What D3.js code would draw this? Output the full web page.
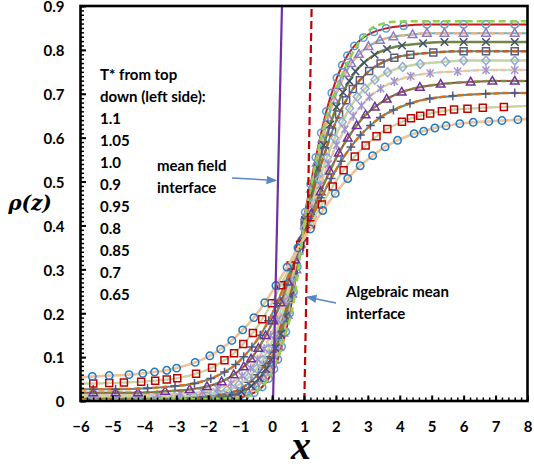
<!DOCTYPE html>
<html>
<head>
<meta charset="utf-8">
<script src="https://cdn.jsdelivr.net/npm/d3@7"></script>
<style>
  body { margin: 0; background: #fff; }
  .lbl { font-family: Lato, "Open Sans", sans-serif; font-weight: bold; font-size: 15px; fill: #000; }
</style>
</head>
<body>
<svg id="chart" width="534" height="467"></svg>
<script>
// density profiles rho(z), one pair of arrays per temperature (top curve on the right first)
var s1z = [-6, -5.6, -4.9, -4.2, -3.6, -3.05, -2.55, -2.1, -1.26, -0.85, -0.56, -0.31, -0.11, 0.06, 0.18, 0.30, 0.43, 0.55, 0.67, 0.79, 0.92, 1.04, 1.21, 1.37, 1.54, 1.70, 1.87, 2.03, 2.20, 2.36, 2.58, 2.86, 3.19, 3.57, 4.12, 4.85, 5.4, 6.0, 6.7, 7.6, 8];
var s1rho = [0.002, 0.002, 0.002, 0.002, 0.002, 0.002, 0.002, 0.002, 0.005, 0.011, 0.019, 0.032, 0.051, 0.073, 0.095, 0.124, 0.158, 0.200, 0.249, 0.306, 0.366, 0.430, 0.494, 0.555, 0.611, 0.660, 0.702, 0.736, 0.765, 0.787, 0.809, 0.828, 0.841, 0.849, 0.855, 0.858, 0.858, 0.858, 0.858, 0.858, 0.858];

var s2z = [-6, -5.6, -4.9, -4.2, -3.6, -3.05, -2.55, -2.1, -1.54, -1.08, -0.75, -0.48, -0.25, -0.06, 0.07, 0.21, 0.35, 0.49, 0.63, 0.76, 0.90, 1.04, 1.22, 1.40, 1.58, 1.76, 1.94, 2.12, 2.30, 2.48, 2.72, 3.02, 3.38, 3.80, 4.40, 4.85, 5.4, 6.0, 6.7, 7.6, 8];
var s2rho = [0.003, 0.003, 0.003, 0.003, 0.003, 0.003, 0.003, 0.003, 0.006, 0.011, 0.019, 0.033, 0.051, 0.072, 0.094, 0.122, 0.155, 0.196, 0.244, 0.299, 0.358, 0.421, 0.483, 0.542, 0.597, 0.645, 0.686, 0.719, 0.747, 0.769, 0.790, 0.808, 0.822, 0.830, 0.835, 0.838, 0.838, 0.838, 0.838, 0.838, 0.838];

var s3z = [-6, -5.6, -4.9, -4.2, -3.6, -3.05, -2.55, -1.83, -1.32, -0.96, -0.65, -0.40, -0.19, -0.04, 0.11, 0.27, 0.42, 0.57, 0.72, 0.88, 1.03, 1.23, 1.43, 1.62, 1.82, 2.02, 2.22, 2.42, 2.61, 2.88, 3.21, 3.60, 4.07, 4.73, 5.4, 6.0, 6.7, 7.6, 8];
var s3rho = [0.005, 0.005, 0.005, 0.005, 0.005, 0.005, 0.005, 0.008, 0.013, 0.021, 0.034, 0.052, 0.073, 0.094, 0.120, 0.153, 0.193, 0.240, 0.293, 0.351, 0.412, 0.472, 0.530, 0.583, 0.630, 0.670, 0.703, 0.729, 0.751, 0.771, 0.789, 0.802, 0.810, 0.815, 0.818, 0.818, 0.818, 0.818, 0.818];

var s4z = [-6, -5.6, -4.9, -4.2, -3.6, -3.05, -2.55, -2.12, -1.56, -1.16, -0.83, -0.55, -0.32, -0.16, 0.01, 0.18, 0.35, 0.52, 0.68, 0.85, 1.02, 1.24, 1.45, 1.67, 1.88, 2.10, 2.32, 2.53, 2.75, 3.04, 3.40, 3.83, 4.33, 5.05, 6.0, 6.7, 7.6, 8];
var s4rho = [0.007, 0.007, 0.007, 0.007, 0.007, 0.007, 0.007, 0.010, 0.015, 0.022, 0.035, 0.052, 0.073, 0.093, 0.119, 0.151, 0.190, 0.235, 0.287, 0.343, 0.402, 0.461, 0.517, 0.569, 0.614, 0.653, 0.685, 0.711, 0.731, 0.752, 0.769, 0.782, 0.789, 0.794, 0.797, 0.797, 0.797, 0.797];

var s5z = [-6, -5.6, -4.9, -4.2, -3.6, -3.05, -2.46, -1.84, -1.41, -1.04, -0.73, -0.48, -0.29, -0.11, 0.08, 0.27, 0.45, 0.64, 0.82, 1.01, 1.25, 1.48, 1.72, 1.96, 2.20, 2.43, 2.67, 2.91, 3.22, 3.62, 4.09, 4.64, 5.43, 6.0, 6.7, 7.6, 8];
var s5rho = [0.010, 0.010, 0.010, 0.010, 0.010, 0.010, 0.013, 0.018, 0.025, 0.037, 0.054, 0.074, 0.094, 0.119, 0.150, 0.187, 0.231, 0.282, 0.336, 0.393, 0.450, 0.505, 0.555, 0.599, 0.636, 0.667, 0.693, 0.712, 0.732, 0.749, 0.761, 0.768, 0.773, 0.776, 0.776, 0.776, 0.776];

var s6z = [-6, -5.6, -4.9, -4.2, -3.6, -2.87, -2.18, -1.70, -1.29, -0.94, -0.67, -0.46, -0.25, -0.05, 0.16, 0.37, 0.58, 0.78, 0.99, 1.25, 1.51, 1.76, 2.02, 2.28, 2.54, 2.80, 3.05, 3.40, 3.83, 4.34, 4.95, 5.81, 6.7, 7.6, 8];
var s6rho = [0.014, 0.014, 0.014, 0.014, 0.014, 0.017, 0.021, 0.028, 0.040, 0.057, 0.075, 0.095, 0.119, 0.149, 0.185, 0.228, 0.276, 0.329, 0.384, 0.439, 0.492, 0.540, 0.583, 0.619, 0.649, 0.673, 0.693, 0.712, 0.728, 0.740, 0.747, 0.751, 0.754, 0.754, 0.754];

var s7z = [-6, -5.6, -4.9, -4.2, -3.35, -2.58, -2.04, -1.58, -1.20, -0.89, -0.66, -0.43, -0.20, 0.04, 0.27, 0.50, 0.73, 0.96, 1.24, 1.52, 1.81, 2.09, 2.37, 2.65, 2.93, 3.22, 3.59, 4.06, 4.63, 5.28, 6.22, 6.9, 7.6, 8];
var s7rho = [0.019, 0.019, 0.019, 0.019, 0.022, 0.026, 0.033, 0.044, 0.060, 0.078, 0.096, 0.120, 0.149, 0.183, 0.224, 0.271, 0.321, 0.374, 0.427, 0.477, 0.524, 0.565, 0.599, 0.628, 0.652, 0.670, 0.688, 0.704, 0.715, 0.722, 0.727, 0.729, 0.729, 0.729];

var s8z = [-6, -5.6, -4.9, -3.90, -3.04, -2.43, -1.92, -1.49, -1.14, -0.89, -0.63, -0.37, -0.11, 0.15, 0.40, 0.66, 0.92, 1.23, 1.54, 1.85, 2.16, 2.47, 2.77, 3.08, 3.39, 3.80, 4.32, 4.94, 5.66, 6.69, 7.6, 8];
var s8rho = [0.027, 0.027, 0.027, 0.029, 0.034, 0.040, 0.051, 0.066, 0.083, 0.101, 0.123, 0.150, 0.183, 0.222, 0.266, 0.314, 0.365, 0.415, 0.463, 0.507, 0.546, 0.579, 0.606, 0.628, 0.646, 0.663, 0.678, 0.689, 0.695, 0.700, 0.702, 0.702];

var s9z = [-6, -5.6, -5.1, -4.64, -4.1, -3.66, -3.3, -2.97, -2.38, -1.88, -1.49, -1.19, -0.90, -0.60, -0.31, -0.01, 0.28, 0.58, 0.88, 1.22, 1.56, 1.90, 2.24, 2.59, 2.93, 3.27, 3.61, 4.07, 4.35, 4.64, 4.95, 5.32, 5.7, 6.12, 6.6, 7.26, 8];
var s9rho = [0.040, 0.040, 0.041, 0.042, 0.044, 0.046, 0.049, 0.052, 0.062, 0.076, 0.093, 0.109, 0.130, 0.155, 0.186, 0.223, 0.264, 0.309, 0.356, 0.403, 0.448, 0.489, 0.526, 0.557, 0.582, 0.603, 0.620, 0.636, 0.644, 0.650, 0.655, 0.660, 0.664, 0.666, 0.668, 0.670, 0.672];

var s10z = [-6, -5.63, -5.1, -4.48, -4.05, -3.68, -3.3, -2.99, -2.41, -1.95, -1.61, -1.26, -0.92, -0.57, -0.23, 0.12, 0.47, 0.81, 1.20, 1.59, 1.98, 2.37, 2.76, 3.15, 3.54, 3.93, 4.45, 4.75, 5.10, 5.45, 5.88, 6.3, 6.79, 7.2, 7.7, 8];
var s10rho = [0.054, 0.056, 0.058, 0.060, 0.063, 0.066, 0.070, 0.075, 0.088, 0.103, 0.118, 0.138, 0.162, 0.190, 0.224, 0.263, 0.305, 0.349, 0.392, 0.434, 0.473, 0.507, 0.536, 0.559, 0.579, 0.594, 0.609, 0.615, 0.622, 0.627, 0.632, 0.635, 0.637, 0.639, 0.641, 0.643];

// green dashed theory curve on top
var greenZ = [-6, -1.0, -0.5, 0, 0.4, 0.7, 1.0, 1.3, 1.6, 1.9, 2.2, 2.5, 2.8, 3.1, 3.4, 3.8, 4.3, 8];
var greenRho = [0.002, 0.006, 0.022, 0.066, 0.147, 0.235, 0.40, 0.52, 0.62, 0.69, 0.745, 0.79, 0.825, 0.848, 0.858, 0.864, 0.865, 0.865];

// interface lines
var meanFieldZ = [0.03, 0.31], meanFieldRho = [0, 0.9];
var algebraicZ = [1.01, 1.24], algebraicRho = [0, 0.9];

var xTicks = [-6, -5, -4, -3, -2, -1, 0, 1, 2, 3, 4, 5, 6, 7, 8];
var yTicks = [0, 0.1, 0.2, 0.3, 0.4, 0.5, 0.6, 0.7, 0.8, 0.9];
var tempLines = ["T* from top", "down (left side):", "1.1", "1.05", "1.0", "0.9", "0.95", "0.8", "0.85", "0.7", "0.65"];

var profiles = [
  [s1z, s1rho], [s2z, s2rho], [s3z, s3rho], [s4z, s4rho], [s5z, s5rho],
  [s6z, s6rho], [s7z, s7rho], [s8z, s8rho], [s9z, s9rho], [s10z, s10rho]
];

var styles = [
  {shape: "circle",   mk: "#5B9BD5", lines: [{c: "#C00000", w: 2}]},
  {shape: "triangle", mk: "#8B7BC4", lines: [{c: "#4BACC6", w: 2}, {c: "#F4B183", w: 2.5, d: "6,3"}]},
  {shape: "x",        mk: "#3E4F6F", lines: [{c: "#93CDDD", w: 1.5}, {c: "#6B7B35", w: 2.5}]},
  {shape: "square",   mk: "#5A5A80", lines: [{c: "#31859C", w: 2}, {c: "#C55A11", w: 2.5, d: "6,3"}]},
  {shape: "diamond",  mk: "#8FAADC", lines: [{c: "#E6B9B8", w: 1.5}, {c: "#C3D69B", w: 2.5}]},
  {shape: "asterisk", mk: "#A193CF", lines: [{c: "#93CDDD", w: 1.5}, {c: "#FAC090", w: 2.5, d: "6,3"}]},
  {shape: "triangle", mk: "#7030A0", lines: [{c: "#953735", w: 2}, {c: "#77933C", w: 2.5, d: "6,3"}]},
  {shape: "plus",     mk: "#4A5A86", lines: [{c: "#31859C", w: 2}, {c: "#E46C0A", w: 2.5, d: "6,3"}]},
  {shape: "square",   mk: "#C00000", lines: [{c: "#E6B9B8", w: 2}, {c: "#C3D69B", w: 2}]},
  {shape: "circle",   mk: "#1F7BC4", lines: [{c: "#93CDDD", w: 2}, {c: "#FAC090", w: 2.5}]}
];

function markerPath(shape) {
  switch (shape) {
    case "circle":   return "M-3.7,0a3.7,3.7 0 1,0 7.4,0a3.7,3.7 0 1,0 -7.4,0";
    case "square":   return "M-3.5,-3.5H3.5V3.5H-3.5Z";
    case "triangle": return "M0,-4.6L4.3,3H-4.3Z";
    case "diamond":  return "M0,-4.4L4,0L0,4.4L-4,0Z";
    case "x":        return "M-3.8,-3.8L3.8,3.8M-3.8,3.8L3.8,-3.8";
    case "plus":     return "M-4.4,0H4.4M0,-4.4V4.4";
    case "asterisk": return "M-3.6,-3.6L3.6,3.6M-3.6,3.6L3.6,-3.6M0,-4.5V4.5";
  }
}

var svg = d3.select("#chart");
var x = d3.scaleLinear().domain([-6, 8]).range([80.5, 527.5]);
var y = d3.scaleLinear().domain([0, 0.9]).range([401, 6]);

svg.append("defs").append("clipPath").attr("id", "plotclip")
  .append("rect").attr("x", 80.5).attr("y", 6).attr("width", 447).attr("height", 395);

svg.select("defs").append("marker")
  .attr("id", "arr").attr("viewBox", "0 0 10 10").attr("refX", 9).attr("refY", 5)
  .attr("markerWidth", 7).attr("markerHeight", 7).attr("orient", "auto")
  .append("path").attr("d", "M0,1L10,5L0,9Z").attr("fill", "#5B86C5");

var plot = svg.append("g").attr("clip-path", "url(#plotclip)");

var line = d3.line()
  .x(function(d) { return x(d[0]); })
  .y(function(d) { return y(d[1]); })
  .curve(d3.curveMonotoneX);

profiles.forEach(function(p, i) {
  var pts = p[0].map(function(z, k) { return [z, p[1][k]]; });
  var st = styles[i];
  var g = plot.append("g");
  st.lines.forEach(function(l) {
    g.append("path").datum(pts)
      .attr("d", line)
      .attr("fill", "none")
      .attr("stroke", l.c)
      .attr("stroke-width", l.w)
      .attr("stroke-opacity", 0.9)
      .attr("stroke-dasharray", l.d || null);
  });
  g.selectAll("path.mk")
    .data(pts.filter(function(d) { return d[0] > -5.9 && d[0] < 7.9; }))
    .enter().append("path")
    .attr("class", "mk")
    .attr("d", markerPath(st.shape))
    .attr("transform", function(d) { return "translate(" + x(d[0]) + "," + y(d[1]) + ")"; })
    .attr("fill", "none")
    .attr("stroke", st.mk)
    .attr("stroke-width", 1.5);
});

plot.append("path")
  .datum(greenZ.map(function(z, k) { return [z, greenRho[k]]; }))
  .attr("d", line)
  .attr("fill", "none")
  .attr("stroke", "#92D050")
  .attr("stroke-width", 2.5)
  .attr("stroke-dasharray", "7,4");

plot.append("path")
  .datum(meanFieldZ.map(function(z, k) { return [z, meanFieldRho[k]]; }))
  .attr("d", d3.line().x(function(d) { return x(d[0]); }).y(function(d) { return y(d[1]); }))
  .attr("stroke", "#7030A0").attr("stroke-width", 2.2).attr("fill", "none");

plot.append("path")
  .datum(algebraicZ.map(function(z, k) { return [z, algebraicRho[k]]; }))
  .attr("d", d3.line().x(function(d) { return x(d[0]); }).y(function(d) { return y(d[1]); }))
  .attr("stroke", "#C00000").attr("stroke-width", 2.2).attr("fill", "none")
  .attr("stroke-dasharray", "8,4");

// axes: minor ticks then majors with labels
var minorX = d3.range(-6, 8.001, 0.2);
var minorY = d3.range(0, 0.9001, 0.01);

svg.append("g").attr("transform", "translate(0,401)")
  .call(d3.axisBottom(x).tickValues(minorX).tickSizeInner(-3.5).tickSizeOuter(0).tickFormat(""))
  .call(function(g) { g.select(".domain").remove(); g.selectAll("line").attr("stroke-width", 1.5); });

svg.append("g").attr("transform", "translate(80.5,0)")
  .call(d3.axisLeft(y).tickValues(minorY).tickSizeInner(-3.5).tickSizeOuter(0).tickFormat(""))
  .call(function(g) { g.select(".domain").remove(); g.selectAll("line").attr("stroke-width", 1.5); });

svg.append("g").attr("transform", "translate(0,401)")
  .call(d3.axisBottom(x).tickValues(xTicks).tickSizeInner(-5.5).tickSizeOuter(0).tickPadding(20).tickFormat(d3.format("d")))
  .call(function(g) {
    g.select(".domain").remove();
    g.selectAll("line").attr("stroke-width", 2);
    g.selectAll("text").attr("class", "lbl").attr("font-size", null).attr("font-family", null);
  });

svg.append("g").attr("transform", "translate(80.5,1)")
  .call(d3.axisLeft(y).tickValues(yTicks).tickSizeInner(0).tickSizeOuter(0).tickPadding(16).tickFormat(d3.format(".1f")))
  .call(function(g) {
    g.select(".domain").remove();
    g.selectAll("line").remove();
    g.selectAll("text").attr("class", "lbl").attr("font-size", null).attr("font-family", null)
      .text(function(d) { return d === 0 ? "0" : d3.format(".1f")(d); });
  });

svg.append("g").attr("transform", "translate(80.5,0)")
  .call(d3.axisLeft(y).tickValues(yTicks).tickSizeInner(-5.5).tickSizeOuter(0).tickFormat(""))
  .call(function(g) { g.select(".domain").remove(); g.selectAll("line").attr("stroke-width", 2); });

svg.append("rect")
  .attr("x", 80.5).attr("y", 6).attr("width", 447).attr("height", 395)
  .attr("fill", "none").attr("stroke", "#000").attr("stroke-width", 2.6);

// annotations
svg.append("g").selectAll("text").data(tempLines).enter().append("text")
  .attr("class", "lbl").attr("x", 100).attr("y", function(d, i) { return 80 + 22 * i; })
  .text(function(d) { return d; });

svg.append("text").attr("class", "lbl").attr("x", 157).attr("y", 171).text("mean field");
svg.append("text").attr("class", "lbl").attr("x", 157).attr("y", 193).text("interface");
svg.append("text").attr("class", "lbl").attr("x", 346).attr("y", 297).text("Algebraic mean");
svg.append("text").attr("class", "lbl").attr("x", 346).attr("y", 319).text("interface");

svg.append("line").attr("x1", 232).attr("y1", 178).attr("x2", 276).attr("y2", 180.5)
  .attr("stroke", "#5B86C5").attr("stroke-width", 1.5).attr("marker-end", "url(#arr)");
svg.append("line").attr("x1", 336).attr("y1", 303).attr("x2", 307).attr("y2", 297)
  .attr("stroke", "#5B86C5").attr("stroke-width", 1.5).attr("marker-end", "url(#arr)");

svg.append("text").attr("x", 30).attr("y", 210).attr("text-anchor", "middle")
  .attr("font-family", "DejaVu Serif").attr("font-weight", "bold").attr("font-style", "italic")
  .attr("font-size", 20).text("ρ(z)");

svg.append("text").attr("x", 301).attr("y", 459).attr("text-anchor", "middle")
  .attr("font-family", "Liberation Serif").attr("font-weight", "bold").attr("font-style", "italic")
  .attr("font-size", 40).text("x");
</script>
</body>
</html>
